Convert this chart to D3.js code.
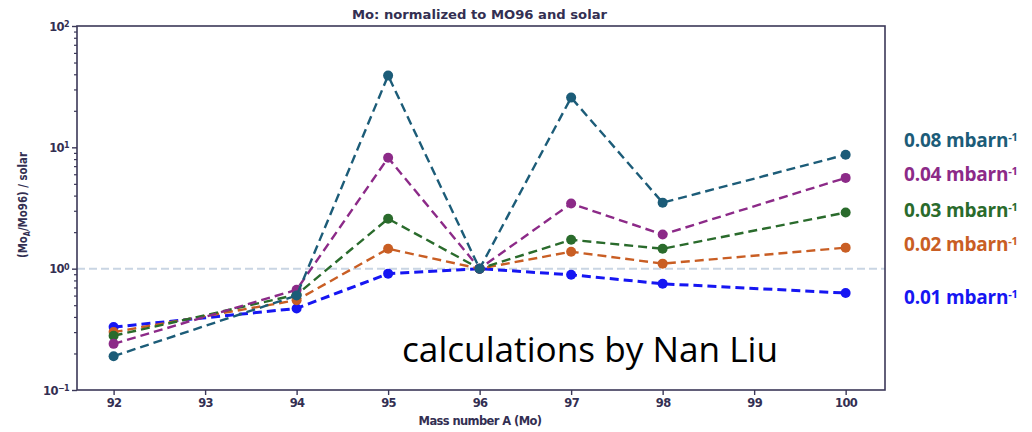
<!DOCTYPE html>
<html>
<head>
<meta charset="utf-8">
<script src="https://cdn.jsdelivr.net/npm/d3@7/dist/d3.min.js"></script>
<style>
  html, body { margin: 0; padding: 0; background: #ffffff; }
  svg { display: block; }
</style>
</head>
<body>
<svg id="chart" width="1032" height="432"></svg>
<script>
// Mass numbers of the Mo isotopes
const massNumbers = [92, 94, 95, 96, 97, 98, 100];

// (Mo_A / Mo96) / solar for each neutron exposure
const series001 = [0.33, 0.47, 0.91, 1.0, 0.89, 0.75, 0.63];
const series002 = [0.30, 0.55, 1.46, 1.0, 1.38, 1.10, 1.49];
const series003 = [0.28, 0.61, 2.58, 1.0, 1.73, 1.46, 2.90];
const series004 = [0.24, 0.67, 8.2, 1.0, 3.44, 1.91, 5.6];
const series008 = [0.19, 0.60, 39.0, 1.0, 25.7, 3.5, 8.7];

const seriesLabels = ["0.01", "0.02", "0.03", "0.04", "0.08"];
const seriesColors = ["#1616f2", "#c95e24", "#2a6b2c", "#8c2a88", "#1c5c78"];
const allSeries = [series001, series002, series003, series004, series008];

const xTicks = [92, 93, 94, 95, 96, 97, 98, 99, 100];
const yTicks = [0.1, 1, 10, 100];
const yTickLabels = ["10", "10", "10", "10"];
const yTickExps = ["\u22121", "0", "1", "2"];

const svg = d3.select("#chart");
const plot = { left: 77, right: 885, top: 26, bottom: 390 };
const axisColor = "#3b3858";
const textColor = "#332f52";
const labelFont = "'DejaVu Sans', sans-serif";

const x = d3.scaleLinear().domain([91.6, 100.43]).range([plot.left, plot.right]);
const y = d3.scaleLog().domain([0.1, 100]).range([plot.bottom, plot.top]);

// reference line at unity
svg.append("line")
  .attr("x1", plot.left).attr("x2", plot.right)
  .attr("y1", y(1)).attr("y2", y(1))
  .attr("stroke", "#c9d5e3").attr("stroke-width", 2)
  .attr("stroke-dasharray", "8,4");

// series
const line = d3.line().x((d, i) => x(massNumbers[i])).y(d => y(d));
allSeries.forEach((vals, k) => {
  const g = svg.append("g");
  g.append("path")
    .attr("d", line(vals))
    .attr("fill", "none")
    .attr("stroke", seriesColors[k])
    .attr("stroke-width", k === 0 ? 3 : 2.4)
    .attr("stroke-dasharray", "9,5");
  g.selectAll("circle").data(vals).join("circle")
    .attr("cx", (d, i) => x(massNumbers[i]))
    .attr("cy", d => y(d))
    .attr("r", 5)
    .attr("fill", seriesColors[k]);
});

// frame
svg.append("rect")
  .attr("x", plot.left).attr("y", plot.top)
  .attr("width", plot.right - plot.left).attr("height", plot.bottom - plot.top)
  .attr("fill", "none").attr("stroke", axisColor).attr("stroke-width", 1.6);

// x axis
const xAxis = d3.axisBottom(x).tickValues(xTicks).tickSize(5).tickPadding(4)
  .tickFormat(d3.format("d"));
const gx = svg.append("g").attr("transform", `translate(0,${plot.bottom})`).call(xAxis);
gx.select(".domain").remove();
gx.selectAll(".tick line").attr("stroke", axisColor).attr("stroke-width", 1.4);
gx.selectAll(".tick text")
  .attr("fill", textColor)
  .style("font-family", labelFont)
  .style("font-weight", "bold")
  .style("font-size", "11.5px")
  .style("letter-spacing", "-0.6px");

// y axis: major ticks with power labels, minor ticks per decade
const minorTicks = [];
[0.1, 1, 10].forEach(dec => { for (let m = 2; m <= 9; m++) minorTicks.push(dec * m); });
const gyMinor = svg.append("g").attr("transform", `translate(${plot.left},0)`)
  .call(d3.axisLeft(y).tickValues(minorTicks).tickSize(3).tickFormat(""));
gyMinor.select(".domain").remove();
gyMinor.selectAll(".tick line").attr("stroke", axisColor).attr("stroke-width", 1.2);

const gy = svg.append("g").attr("transform", `translate(${plot.left},0)`)
  .call(d3.axisLeft(y).tickValues(yTicks).tickSize(5).tickPadding(4).tickFormat(""));
gy.select(".domain").remove();
gy.selectAll(".tick line").attr("stroke", axisColor).attr("stroke-width", 1.4);
gy.selectAll(".tick").each(function(d, i) {
  const t = d3.select(this).append("text")
    .attr("x", -8).attr("dy", "0.35em")
    .attr("text-anchor", "end")
    .attr("fill", textColor)
    .style("font-family", labelFont)
    .style("font-weight", "bold")
    .style("font-size", "11.5px")
    .style("letter-spacing", "-0.6px");
  t.append("tspan").text(yTickLabels[i]);
  t.append("tspan").attr("dy", "-0.45em").style("font-size", "8px").text(yTickExps[i]);
});

// title
svg.append("text")
  .attr("x", 352).attr("y", 19)
  .attr("textLength", 255).attr("lengthAdjust", "spacingAndGlyphs")
  .attr("fill", textColor)
  .style("font-family", labelFont)
  .style("font-weight", "bold")
  .style("font-size", "13px")
  .text("Mo: normalized to MO96 and solar");

// axis titles
svg.append("text")
  .attr("x", 480).attr("y", 425)
  .attr("text-anchor", "middle")
  .attr("fill", textColor)
  .style("font-family", labelFont)
  .style("font-weight", "bold")
  .style("font-size", "11.5px")
  .style("letter-spacing", "-0.6px")
  .text("Mass number A (Mo)");

const yl = svg.append("text")
  .attr("transform", "translate(27,258) rotate(-90)")
  .attr("textLength", 106).attr("lengthAdjust", "spacingAndGlyphs")
  .attr("fill", textColor)
  .style("font-family", labelFont)
  .style("font-weight", "bold")
  .style("font-size", "12.5px");
yl.append("tspan").text("(Mo");
yl.append("tspan").attr("dy", "3").style("font-size", "8px").text("A");
yl.append("tspan").attr("dy", "-3").text("/Mo96) / solar");

// series labels at the right
const labelY = [297, 244, 210, 174, 140];
seriesLabels.forEach((lab, k) => {
  const t = svg.append("text")
    .attr("x", 904).attr("y", labelY[k]).attr("dy", "0.35em")
    .attr("fill", seriesColors[k])
    .style("font-family", "'Open Sans', sans-serif")
    .style("font-weight", "bold")
    .style("font-size", "19px")
    .style("letter-spacing", "-0.2px");
  t.append("tspan").text(lab + " mbarn");
  t.append("tspan").attr("dy", "-0.5em").style("font-size", "11px").text("-1");
});

// credit
svg.append("text")
  .attr("x", 402).attr("y", 362)
  .attr("fill", "#000000")
  .attr("textLength", 376).attr("lengthAdjust", "spacingAndGlyphs")
  .style("font-family", "'Open Sans', sans-serif")
  .style("font-size", "35px")
  .text("calculations by Nan Liu");
</script>
</body>
</html>
